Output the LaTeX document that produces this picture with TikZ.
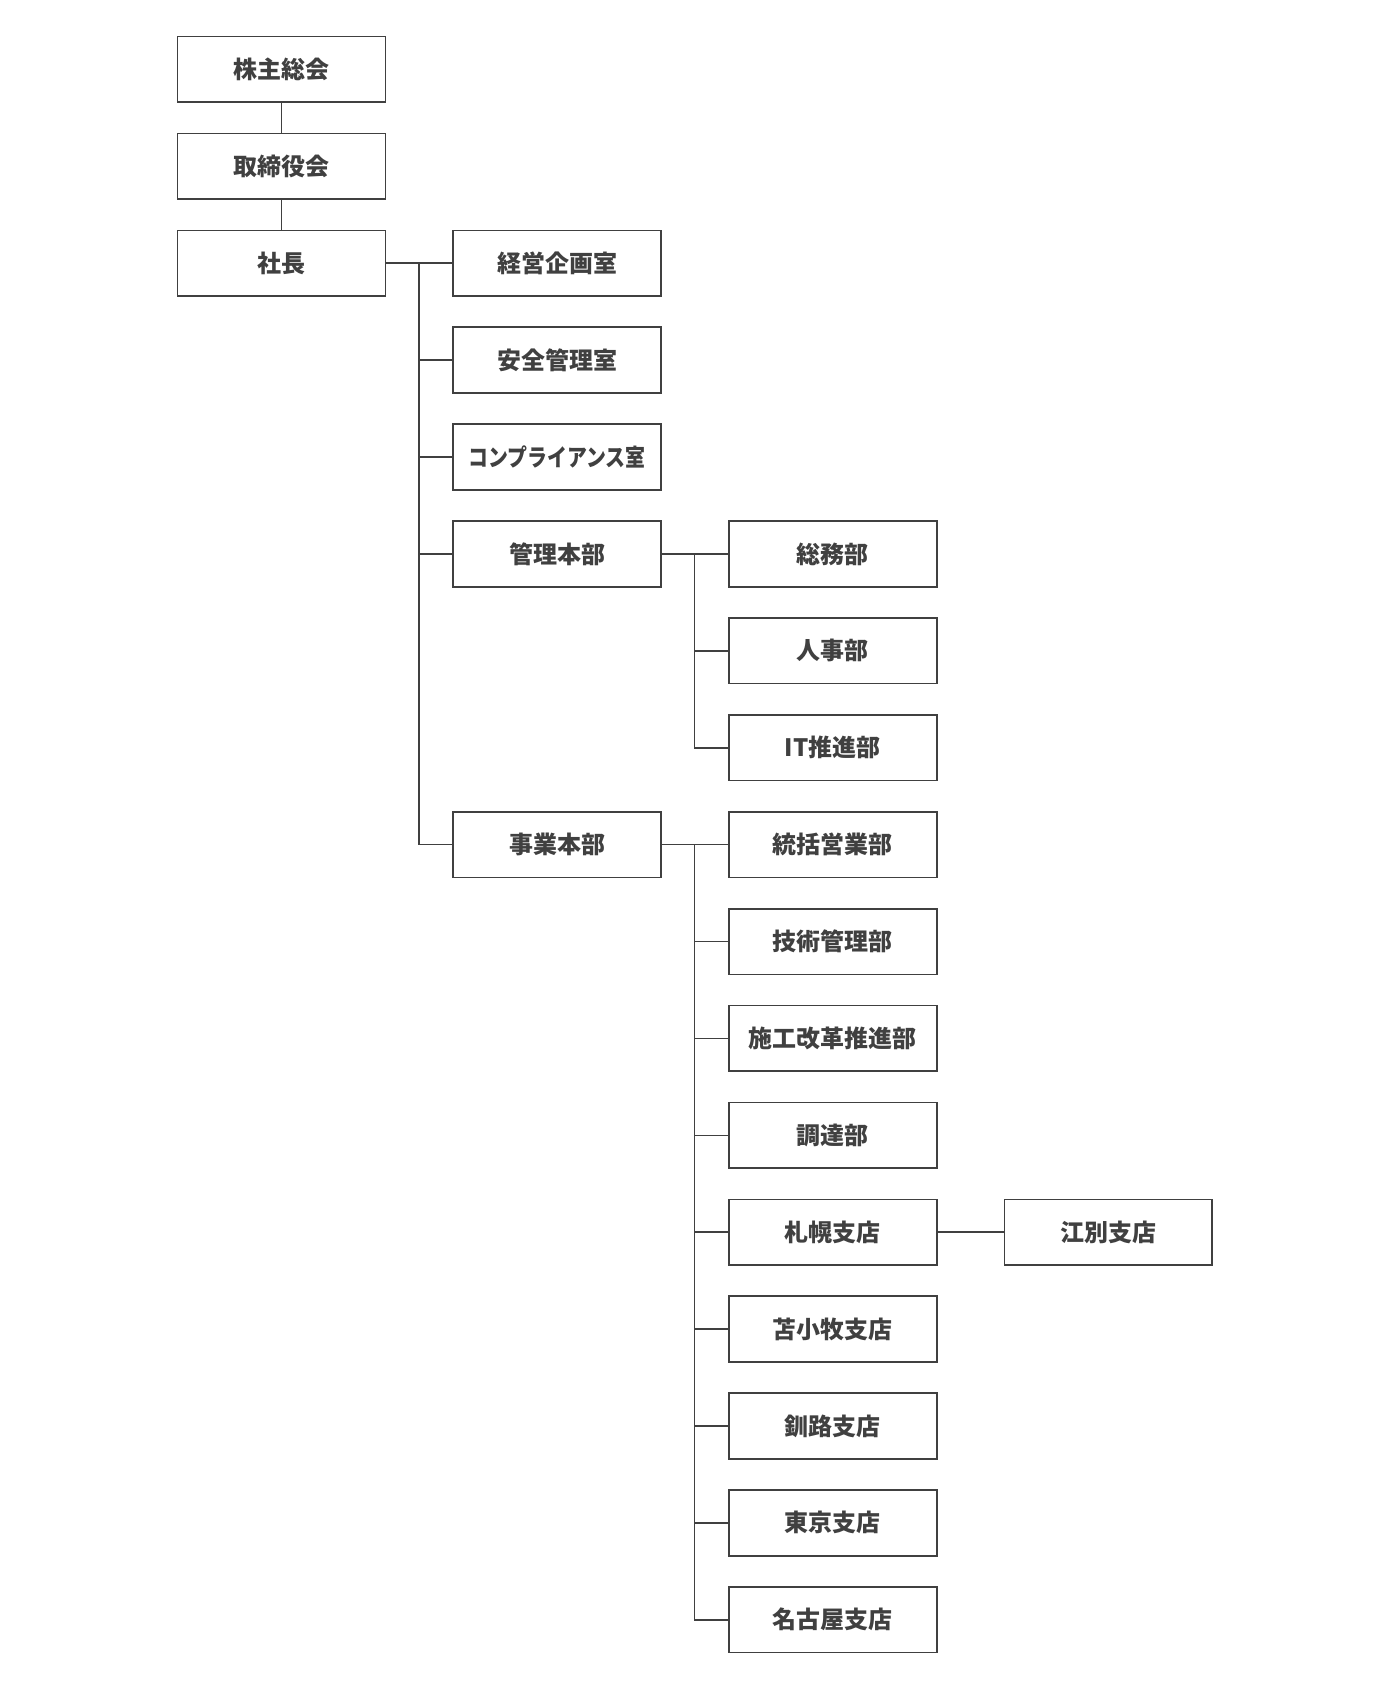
\documentclass[tikz,border=0pt]{standalone}
\usepackage{fontspec}
\setmainfont{Noto Sans CJK JP}
\usepackage{tikz}
\definecolor{orgline}{HTML}{404040}
\tikzset{
  unit/.style={draw=orgline, line width=1.3pt, minimum width=5.79cm, minimum height=1.83cm,
    inner sep=0pt, text=orgline, font=\fontsize{19}{22}\selectfont\bfseries},
  link/.style={draw=orgline, line width=1.3pt}
}
\begin{document}
\begin{tikzpicture}[x=0.03cm,y=-0.03cm]
\useasboundingbox (0,0) rectangle (1300,1579);
%top column
\node[unit] (kabunushi) at (261.5,64.5) {株主総会};
\node[unit] (torishimari) at (261.5,154.5) {取締役会};
\node[unit] (shacho) at (261.5,244.5) {社長};
\draw[link] (kabunushi) -- (torishimari);
\draw[link] (torishimari) -- (shacho);
%staff and divisions
\node[unit] (kikaku) at (517.5,244.5) {経営企画室};
\node[unit] (anzen) at (517.5,334.5) {安全管理室};
\node[unit] (compliance) at (517.5,424.5) {\scalebox{0.83}[1]{コンプライアンス室}};
\node[unit] (kanri) at (517.5,514.5) {管理本部};
\node[unit] (jigyo) at (517.5,784.5) {事業本部};
\coordinate (bus1) at (389,244.5);
\draw[link] (shacho) -- (bus1);
\foreach \n in {kikaku,anzen,compliance,kanri,jigyo}
  \draw[link] (bus1) |- (\n.west);
%kanri departments
\node[unit] (somu) at (773.5,514.5) {総務部};
\node[unit] (jinji) at (773.5,604.5) {人事部};
\node[unit] (it) at (773.5,694.5) {IT推進部};
\coordinate (bus2) at (645,514.5);
\draw[link] (kanri) -- (bus2);
\foreach \n in {somu,jinji,it}
  \draw[link] (bus2) |- (\n.west);
%jigyo departments and branches
\foreach \n/\t [count=\i from 8] in {tokatsu/統括営業部, gijutsu/技術管理部, seko/施工改革推進部,
    chotatsu/調達部, sapporo/札幌支店, tomakomai/苫小牧支店, kushiro/釧路支店,
    tokyo/東京支店, nagoya/名古屋支店}
  \node[unit] (\n) at (773.5,64.5+90*\i) {\t};
\coordinate (bus3) at (645,784.5);
\draw[link] (jigyo) -- (bus3);
\foreach \n in {tokatsu,gijutsu,seko,chotatsu,sapporo,tomakomai,kushiro,tokyo,nagoya}
  \draw[link] (bus3) |- (\n.west);
\node[unit] (ebetsu) at (1029.5,1144.5) {江別支店};
\draw[link] (sapporo) -- (ebetsu);
\end{tikzpicture}
\end{document}
